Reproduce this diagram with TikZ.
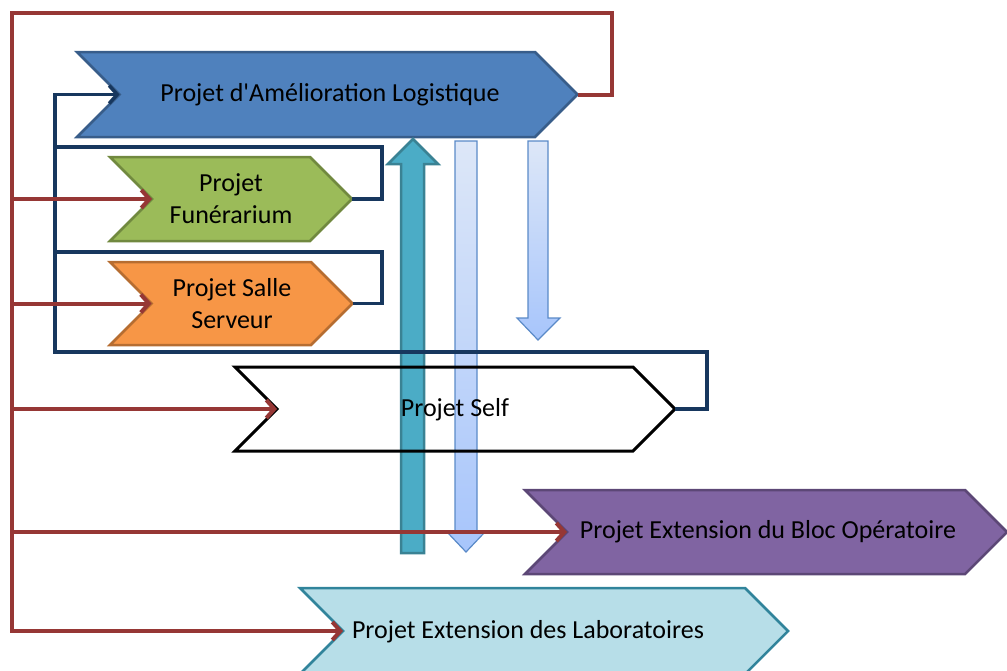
\documentclass[tikz,border=0pt]{standalone}
\usepackage{fontspec}
\setmainfont{Carlito}[Ligatures=TeXOff]
\usetikzlibrary{arrows.meta}
\definecolor{redl}{RGB}{150,55,53}
\definecolor{navyl}{RGB}{23,55,94}
\definecolor{bluef}{HTML}{4F81BD}
\definecolor{blued}{HTML}{385D8A}
\definecolor{greenf}{HTML}{9BBB59}
\definecolor{greend}{HTML}{71893F}
\definecolor{orangef}{HTML}{F79646}
\definecolor{oranged}{HTML}{B66D31}
\definecolor{purplef}{HTML}{8064A2}
\definecolor{purpled}{HTML}{5C4776}
\definecolor{cyanf}{HTML}{B7DEE8}
\definecolor{cyand}{HTML}{31849B}
\definecolor{tealf}{HTML}{4BACC6}
\definecolor{teald}{HTML}{3A8294}
\definecolor{paletop}{HTML}{DDE7F8}
\definecolor{palebot}{HTML}{A7C5FB}
\definecolor{paled}{HTML}{5A8AC8}
\tikzset{
  chev/.style={line width=2.5pt, line join=miter},
  lbl/.style={font=\fontsize{26}{32}\selectfont, align=center, inner sep=0pt},
  redcon/.style={draw=redl, line width=4pt, line join=miter},
  navycon/.style={draw=navyl, line width=3.5pt, line join=miter},
  redtip/.style={-{Straight Barb[length=8pt,width=18pt,line width=4pt]}},
  navytip/.style={-{Straight Barb[length=8pt,width=18pt,line width=3.5pt]}},
  palearrow/.style={top color=paletop, bottom color=palebot, draw=paled, line width=1.2pt}
}
\begin{document}
\begin{tikzpicture}[x=1pt,y=-1pt]
\useasboundingbox (0,0) rectangle (1007,670);
% chevrons
\path[chev, fill=bluef, draw=blued] (77,52) -- (535,52) -- (577.5,94.5) -- (535,137) -- (77,137) -- (119.5,94.5) -- cycle;
\coordinate (blue-n) at (119.5,94.5); \coordinate (blue-t) at (577.5,94.5);
\node[lbl] (blue) at (330,95) {Projet d'Amélioration Logistique};

\path[chev, fill=greenf, draw=greend] (110,157) -- (310,157) -- (352,199) -- (310,241) -- (110,241) -- (152,199) -- cycle;
\coordinate (green-n) at (152,199); \coordinate (green-t) at (352,199);
\node[lbl] (green) at (231,199) {Projet\\Funérarium};

\path[chev, fill=orangef, draw=oranged] (110,262) -- (311,262) -- (352.5,303.5) -- (311,345) -- (110,345) -- (151.5,303.5) -- cycle;
\coordinate (orange-n) at (151.5,303.5); \coordinate (orange-t) at (352.5,303.5);
\node[lbl] (orange) at (232,303.5) {Projet Salle\\Serveur};

\path[chev, fill=purplef, draw=purpled] (525,490) -- (965,490) -- (1007,532) -- (965,574) -- (525,574) -- (567,532) -- cycle;
\coordinate (purple-n) at (567,532);
\node[lbl] (purple) at (768,532) {Projet Extension du Bloc Opératoire};

\path[chev, fill=cyanf, draw=cyand] (300,588) -- (745,588) -- (788,631) -- (745,674) -- (300,674) -- (343,631) -- cycle;
\coordinate (cyan-n) at (343,631);
\node[lbl] (cyan) at (528,632) {Projet Extension des Laboratoires};

% block arrows
\path[fill=tealf, draw=teald, line width=2.5pt, line join=miter] (401,553) -- (401,164) -- (388,164) -- (413,139) -- (438,164) -- (424,164) -- (424,553) -- cycle;
\path[palearrow] (455,141) -- (477,141) -- (477,533) -- (484,533) -- (466,552) -- (448,533) -- (455,533) -- cycle;
\path[palearrow] (528,141) -- (548,141) -- (548,318) -- (560,318) -- (538,340) -- (517,318) -- (528,318) -- cycle;

% self chevron (outline only)
\path[chev, draw=black, line width=3pt] (235,367) -- (633,367) -- (675,409) -- (633,451) -- (235,451) -- (277,409) -- cycle;
\coordinate (self-n) at (277,409); \coordinate (self-t) at (675,409);
\node[lbl] (self) at (455,410) {Projet Self};

% navy feedback loops
\coordinate (g1) at (382,147);
\coordinate (o1) at (382,252);
\coordinate (s1) at (707,352);
\coordinate (nbot) at (55,352);
\draw[navycon] (green-t) -| (g1) -- (g1 -| nbot);
\draw[navycon] (orange-t) -| (o1) -- (o1 -| nbot);
\draw[navycon, navytip] (self-t) -| (s1) -- (nbot) -- (blue-n -| nbot) -- (blue-n);

% red connectors
\coordinate (r1) at (612,13);
\coordinate (r0) at (12,13);
\draw[redcon, redtip] (blue-t) -| (r1) -- (r0) -- (cyan-n -| r0) -- (cyan-n);
\draw[redcon, redtip] (green-n -| r0) -- (green-n);
\draw[redcon, redtip] (orange-n -| r0) -- (orange-n);
\draw[redcon, redtip] (self-n -| r0) -- (self-n);
\draw[redcon, redtip] (purple-n -| r0) -- (purple-n);
\end{tikzpicture}
\end{document}
